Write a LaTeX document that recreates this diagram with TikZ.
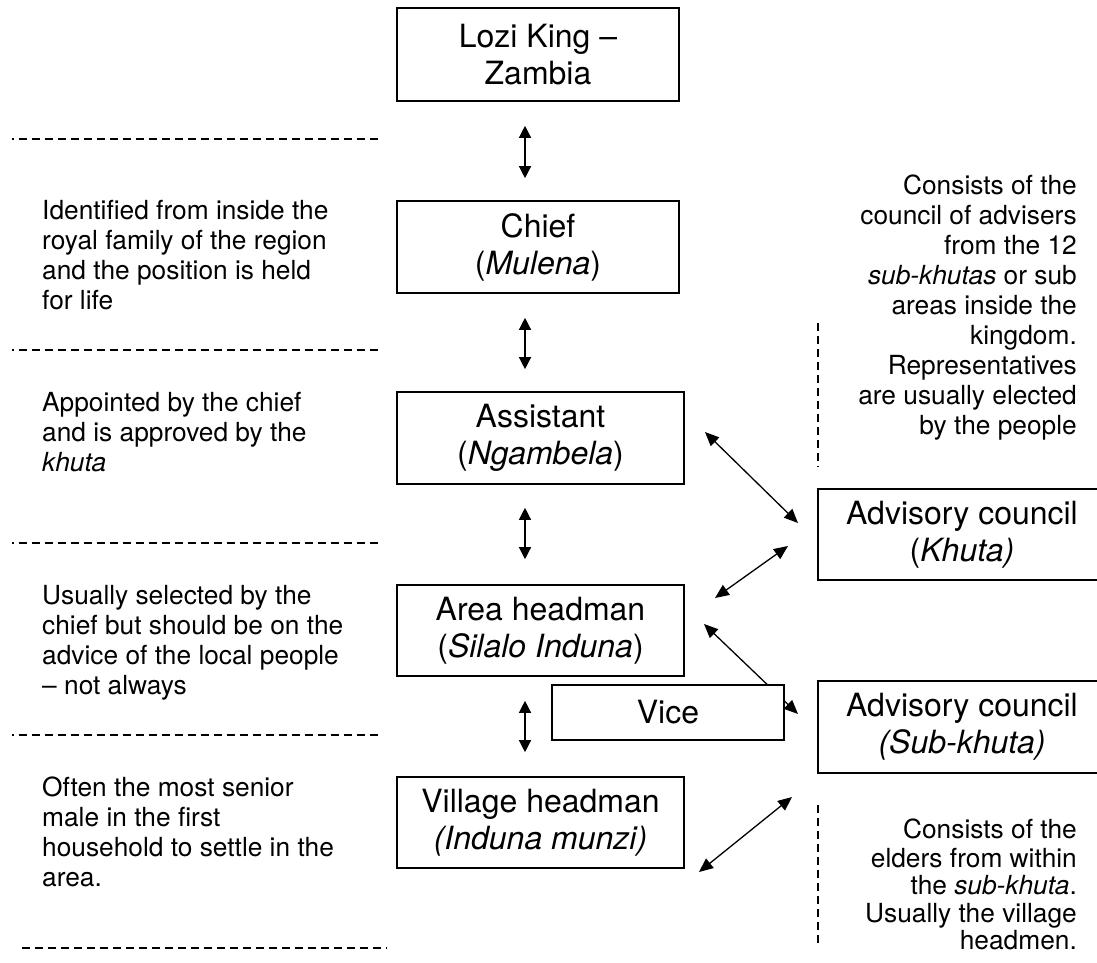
\documentclass[tikz,border=0pt]{standalone}
\usepackage{fontspec}
\setmainfont{TeX Gyre Heros}
\usetikzlibrary{arrows.meta}

\tikzset{
  box/.style={draw, line width=1.6pt, inner sep=0pt, align=center,
              font=\fontsize{32}{37}\selectfont},
  note/.style={inner sep=0pt, font=\fontsize{26.3}{30}\selectfont},
  dbl/.style={line width=1.3pt, {Triangle[length=12pt,width=12pt]}-{Triangle[length=12pt,width=12pt]}},
  dblx/.style={line width=1.3pt, {Triangle[length=14pt,width=12pt]}-{Triangle[length=14pt,width=12pt]}},
  sep/.style={line width=1.1pt, dash pattern=on 8pt off 5pt},
}

\begin{document}
\begin{tikzpicture}[x=1pt,y=-1pt]
\useasboundingbox (0,0) rectangle (1097,963);

% hierarchy boxes
\node[box, minimum width=282pt, minimum height=93pt] (lozi) at (538,54.5) {Lozi King --\\Zambia};
\node[box, minimum width=282pt, minimum height=92pt] (chief) at (538,247) {Chief\\(\textit{Mulena})};
\node[box, minimum width=287pt, minimum height=92pt] (asst) at (540.5,438) {Assistant\\(\textit{Ngambela})};
\node[box, minimum width=287pt, minimum height=91pt] (area) at (540.5,630.5) {Area headman\\(\textit{Silalo Induna})};
\node[box, minimum width=287pt, minimum height=91pt] (village) at (540.5,822.5) {Village headman\\\textit{(Induna munzi)}};
\node[box, minimum width=288pt, minimum height=91pt] (khuta) at (962,534.5) {Advisory council\\(\textit{Khuta)}};
\node[box, minimum width=288pt, minimum height=92pt] (subkhuta) at (962,727) {Advisory council\\\textit{(Sub-khuta)}};

% vertical links down the chain
\coordinate (ax) at (525,0);
\draw[dbl, shorten <=24pt, shorten >=22pt] (lozi.south -| ax) -- (chief.north -| ax);
\draw[dbl, shorten <=24pt, shorten >=22pt] (chief.south -| ax) -- (asst.north -| ax);
\draw[dbl, shorten <=23pt, shorten >=25pt] (asst.south -| ax) -- (area.north -| ax);
\draw[dbl, shorten <=24pt, shorten >=24pt] (area.south -| ax) -- (village.north -| ax);

% links to the councils
\coordinate (a1) at (705,432);  \coordinate (k1) at (798,523);
\coordinate (a2) at (715,598);  \coordinate (k2) at (788,546);
\coordinate (a3) at (704,624);  \coordinate (s1) at (798,714);
\coordinate (v1) at (699,872);  \coordinate (s2) at (792,797);
\draw[dblx] (a1) -- (k1);
\draw[dblx] (a2) -- (k2);
\draw[dblx] (a3) -- (s1);
\draw[dblx] (v1) -- (s2);

% the vice box sits over the area link
\node[box, fill=white, minimum width=232pt, minimum height=55pt] (vice) at (668,712.5) {Vice};

% horizontal separators
\draw[sep, dash phase=6.5pt] (12,139) -- (378,139);
\draw[sep, dash phase=6.5pt] (12,350) -- (378,350);
\draw[sep, dash phase=6.5pt] (12,543) -- (378,543);
\draw[sep, dash phase=6.5pt] (12,735) -- (378,735);
\draw[sep] (22,948) -- (387,948);

% vertical separators on the right
\draw[sep] (818,323) -- (818,467);
\draw[sep] (818,805) -- (818,947);

% descriptions on the left
\node[note, anchor=north west, align=left] (d1) at (42,198)
  {\strut Identified from inside the\\royal family of the region\\and the position is held\\for life};
\node[note, anchor=north west, align=left] (d2) at (42,390)
  {\strut Appointed by the chief\\and is approved by the\\\textit{khuta}};
\node[note, anchor=north west, align=left] (d3) at (42,583)
  {\strut Usually selected by the\\chief but should be on the\\advice of the local people\\-- not always};
\node[note, anchor=north west, align=left] (d4) at (42,775)
  {\strut Often the most senior\\male in the first\\household to settle in the\\area.};

% descriptions on the right
\node[note, anchor=north east, align=right] (r1) at (1077,173)
  {\strut Consists of the\\council of advisers\\from the 12\\\textit{sub-khutas} or sub\\areas inside the\\kingdom.\\Representatives\\are usually elected\\by the people};
\node[note, anchor=north east, align=right, font=\fontsize{26.3}{27.5}\selectfont] (r2) at (1077,819)
  {\strut Consists of the\\elders from within\\the \textit{sub-khuta}.\\Usually the village\\headmen.};
\end{tikzpicture}
\end{document}
